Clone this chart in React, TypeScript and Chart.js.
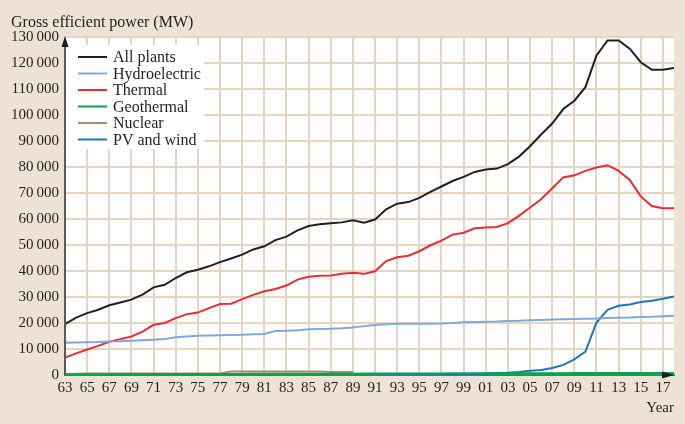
import React, { useEffect, useRef } from "react";
import { Chart, registerables } from "chart.js";

Chart.register(...registerables);

const years: number[] = [
  1963, 1964, 1965, 1966, 1967, 1968, 1969, 1970, 1971, 1972, 1973, 1974, 1975, 1976,
  1977, 1978, 1979, 1980, 1981, 1982, 1983, 1984, 1985, 1986, 1987, 1988, 1989, 1990,
  1991, 1992, 1993, 1994, 1995, 1996, 1997, 1998, 1999, 2000, 2001, 2002, 2003, 2004,
  2005, 2006, 2007, 2008, 2009, 2010, 2011, 2012, 2013, 2014, 2015, 2016, 2017, 2018,
];

const allPlants: number[] = [
  19600, 22100, 23800, 25100, 26800, 27900, 29000, 30900, 33700, 34700, 37300, 39500, 40500, 41800,
  43400, 44800, 46300, 48300, 49500, 51900, 53200, 55600, 57300, 58000, 58400, 58700, 59500, 58600,
  59800, 63700, 65900, 66500, 68100, 70400, 72500, 74600, 76200, 78100, 79000, 79400, 81100, 84000,
  88000, 92500, 96700, 102300, 105500, 110700, 122900, 128700, 128700, 125500, 120300, 117400, 117400, 118100,
];

const hydroelectric: number[] = [
  12400, 12500, 12600, 12700, 12900, 13000, 13200, 13400, 13600, 13800, 14500, 14800, 15100, 15200,
  15300, 15400, 15500, 15700, 15800, 16900, 17000, 17200, 17600, 17700, 17800, 18000, 18300, 18800,
  19200, 19500, 19700, 19700, 19700, 19700, 19800, 20000, 20300, 20400, 20500, 20600, 20800, 20900,
  21100, 21200, 21300, 21400, 21500, 21600, 21700, 21900, 22000, 22100, 22300, 22400, 22600, 22800,
];

const thermal: number[] = [
  6700, 8300, 9800, 11200, 12800, 13800, 14800, 16700, 19300, 20000, 21900, 23400, 24000, 25700,
  27300, 27400, 29200, 30800, 32200, 33100, 34400, 36700, 37800, 38200, 38300, 38900, 39300, 38900,
  39900, 43800, 45300, 45900, 47600, 49900, 51700, 54000, 54700, 56400, 56700, 56900, 58400, 61200,
  64400, 67600, 71800, 76000, 76800, 78500, 79800, 80700, 78500, 75000, 68700, 65000, 64100, 64100,
];

const geothermal: number[] = [
  300, 300, 310, 320, 330, 340, 350, 360, 360, 370, 380, 390, 400, 410,
  420, 420, 430, 440, 450, 450, 460, 470, 480, 490, 500, 510, 520, 540,
  550, 560, 570, 580, 600, 610, 620, 630, 630, 630, 640, 660, 680, 700,
  710, 710, 710, 720, 740, 770, 770, 770, 770, 770, 780, 790, 800, 810,
];

const nuclear: (number | null)[] = [
  200, 500, 550, 550, 550, 550, 550, 550, 550, 550, 550, 550, 550, 550,
  550, 1300, 1300, 1300, 1300, 1300, 1300, 1300, 1300, 1300, 1200, 1200, 1200, null,
  null, null, null, null, null, null, null, null, null, null, null, null, null, null,
  null, null, null, null, null, null, null, null, null, null, null, null, null, null,
];

const pvAndWind: (number | null)[] = [
  null, null, null, null, null, null, null, null, null, null, null, null, null, null,
  null, null, null, null, null, null, null, null, null, null, null, null, null, null,
  20, 40, 60, 80, 100, 130, 160, 200, 250, 400, 600, 800, 900, 1200,
  1600, 1900, 2700, 3900, 6000, 9000, 20200, 25100, 26600, 27100, 28100, 28600, 29300, 30200,
];

const seriesNames: string[] = ["All plants", "Hydroelectric", "Thermal", "Geothermal", "Nuclear", "PV and wind"];
const seriesColors: string[] = ["#231F20", "#7FA8DB", "#EE2B30", "#00A651", "#A58B66", "#1C76BD"];

const tickYears: number[] = [
  1963, 1965, 1967, 1969, 1971, 1973, 1975, 1977, 1979, 1981, 1983, 1985, 1987, 1989,
  1991, 1993, 1995, 1997, 1999, 2001, 2003, 2005, 2007, 2009, 2011, 2013, 2015, 2017,
];
const xTickLabels: string[] = [
  "63", "65", "67", "69", "71", "73", "75", "77", "79", "81", "83", "85", "87", "89",
  "91", "93", "95", "97", "99", "01", "03", "05", "07", "09", "11", "13", "15", "17",
];

const yAxisTitle = "Gross efficient power (MW)";
const xAxisTitle = "Year";

const BG = "#EDE2D5";
const GRID = "#E7D5C0";
const FONT = "'Liberation Serif', 'Times New Roman', serif";
const TEXT = "#231F20";

const decorPlugin = {
  id: "decor",
  beforeDraw(chart: any) {
    const { ctx, chartArea, width, height } = chart;
    ctx.save();
    ctx.fillStyle = BG;
    ctx.fillRect(0, 0, width, height);
    ctx.fillStyle = "#FFFFFF";
    ctx.fillRect(chartArea.left, chartArea.top, chartArea.right - chartArea.left, chartArea.bottom - chartArea.top);
    ctx.restore();
  },
  afterDatasetsDraw(chart: any) {
    const { ctx, chartArea } = chart;
    ctx.save();
    // legend box
    const lx = chartArea.left + 1;
    const ly = chartArea.top + 8;
    ctx.fillStyle = "#FFFFFF";
    ctx.fillRect(lx, ly, 138, 104);
    const ds = chart.data.datasets;
    ctx.font = `16px ${FONT}`;
    ctx.textBaseline = "middle";
    ctx.textAlign = "left";
    for (let i = 0; i < ds.length; i++) {
      const y = chartArea.top + 20 + i * 16.5;
      ctx.strokeStyle = ds[i].borderColor;
      ctx.lineWidth = 2;
      ctx.beginPath();
      ctx.moveTo(chartArea.left + 13, y);
      ctx.lineTo(chartArea.left + 42, y);
      ctx.stroke();
      ctx.fillStyle = TEXT;
      ctx.fillText(ds[i].label, chartArea.left + 48, y + 1);
    }
    // y axis line + arrow
    ctx.strokeStyle = "#5A5A5A";
    ctx.lineWidth = 2;
    ctx.beginPath();
    ctx.moveTo(chartArea.left, chartArea.bottom);
    ctx.lineTo(chartArea.left, chartArea.top + 6);
    ctx.stroke();
    ctx.fillStyle = "#231F20";
    ctx.beginPath();
    ctx.moveTo(chartArea.left, chartArea.top - 1);
    ctx.lineTo(chartArea.left - 3.5, chartArea.top + 10);
    ctx.lineTo(chartArea.left + 3.5, chartArea.top + 10);
    ctx.closePath();
    ctx.fill();
    // x arrow
    ctx.beginPath();
    ctx.moveTo(chartArea.right, chartArea.bottom);
    ctx.lineTo(chartArea.right - 12, chartArea.bottom - 3.5);
    ctx.lineTo(chartArea.right - 12, chartArea.bottom + 3.5);
    ctx.closePath();
    ctx.fill();
    // title
    ctx.fillStyle = TEXT;
    ctx.font = `16px ${FONT}`;
    ctx.textBaseline = "alphabetic";
    ctx.fillText(yAxisTitle, 11, 27);
    ctx.restore();
  },
};

function toPoints(vals: (number | null)[]) {
  return years.map((yr, i) => ({ x: yr, y: vals[i] }));
}

export default function App() {
  const ref = useRef<HTMLCanvasElement | null>(null);
  useEffect(() => {
    if (!ref.current) return;
    const seriesValues = [allPlants, hydroelectric, thermal, geothermal, nuclear, pvAndWind];
    const chart = new Chart(ref.current, {
      type: "line",
      data: {
        datasets: seriesNames.map((name, i) => ({
          label: name,
          data: toPoints(seriesValues[i]) as any,
          borderColor: seriesColors[i],
          backgroundColor: seriesColors[i],
          borderWidth: 2,
          pointRadius: 0,
          tension: 0,
          spanGaps: false,
        })),
      },
      options: {
        responsive: false,
        animation: false,
        events: [],
        layout: { padding: { left: 0, right: 11, top: 37, bottom: 0 } },
        plugins: { legend: { display: false }, tooltip: { enabled: false }, title: { display: false } },
        scales: {
          x: {
            type: "linear",
            min: 1963,
            max: 2018,
            afterBuildTicks: (scale: any) => {
              scale.ticks = tickYears.map((v) => ({ value: v }));
            },
            afterFit: (scale: any) => {
              scale.height = 49;
            },
            grid: { color: GRID, lineWidth: 2, drawTicks: false },
            border: { display: true, color: "#00A651", width: 2 },
            ticks: {
              autoSkip: false,
              maxRotation: 0,
              minRotation: 0,
              padding: 4,
              color: TEXT,
              font: { family: FONT, size: 15 },
              callback: (v: any) => {
                const idx = tickYears.indexOf(Number(v));
                return idx >= 0 ? xTickLabels[idx] : "";
              },
            },
            title: {
              display: true,
              text: xAxisTitle,
              align: "end",
              color: TEXT,
              font: { family: FONT, size: 15 },
              padding: { top: 0, bottom: 7 },
            },
          },
          y: {
            min: 0,
            max: 130000,
            afterFit: (scale: any) => {
              scale.width = 65;
            },
            grid: { color: GRID, lineWidth: 2, drawTicks: false },
            border: { display: false },
            ticks: {
              stepSize: 10000,
              padding: 6,
              color: TEXT,
              font: { family: FONT, size: 15 },
              callback: (v: any) => (Number(v) === 0 ? "0" : `${Number(v) / 1000}\u2009000`),
            },
          },
        },
      },
      plugins: [decorPlugin],
    });
    return () => chart.destroy();
  }, []);
  return (
    <div style={{ position: "absolute", left: 0, top: 0, width: 685, height: 424, background: BG }}>
      <canvas ref={ref} width={685} height={424} style={{ display: "block" }} />
    </div>
  );
}
